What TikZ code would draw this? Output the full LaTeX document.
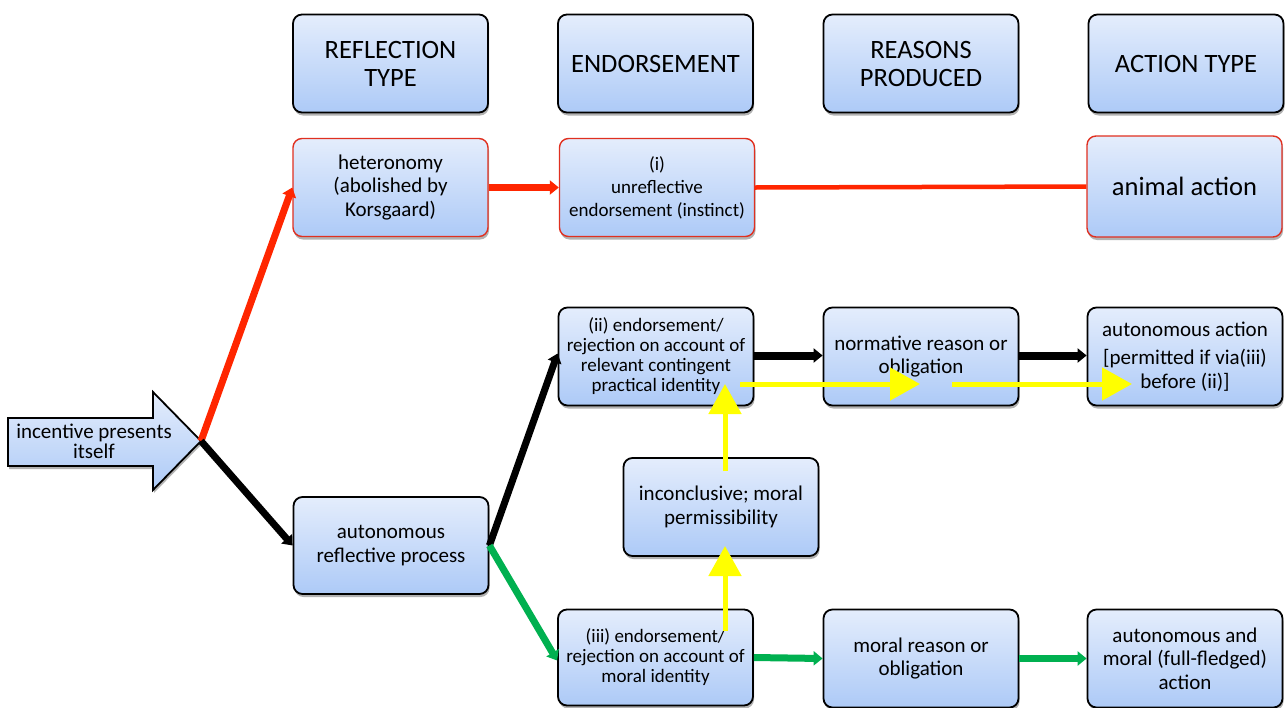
\documentclass[tikz,border=0pt]{standalone}
\usepackage{fontspec}
\setmainfont{Carlito}
\usetikzlibrary{shadows,arrows.meta,calc}
\definecolor{boxtop}{HTML}{E4EDFC}
\definecolor{boxbot}{HTML}{ADCAF7}
\definecolor{redl}{HTML}{FF2600}
\definecolor{redb}{HTML}{E03020}
\definecolor{greenl}{HTML}{00B050}
\definecolor{yell}{HTML}{FFFF00}
\begin{document}
\begin{tikzpicture}[x=1pt,y=-1pt,
  box/.style={draw=black, line width=1.8pt, rounded corners=9pt,
    top color=boxtop, bottom color=boxbot, minimum width=195pt, minimum height=98pt,
    align=center, inner sep=2pt, font=\fontsize{21}{23.5}\selectfont,
    drop shadow={shadow xshift=1pt, shadow yshift=-3pt, opacity=0.3, fill=black}},
  redbox/.style={box, draw=redb, line width=1.4pt},
  head/.style={box, font=\fontsize{26.5}{28}\selectfont},
  small/.style={font=\fontsize{19}{20}\selectfont},
  conn/.style={line width=7pt, -{Triangle[length=9pt,width=14pt]}},
  yarrow/.style={draw=yell, line width=5pt, -{Triangle[length=30pt,width=32pt]}}
]
\useasboundingbox (0,0) rectangle (1287,707);

% header row
\node[head] (hRef) at (390.5,63.5) {REFLECTION\\TYPE};
\node[head] (hEnd) at (655.5,63.5) {ENDORSEMENT};
\node[head] (hRea) at (921,63.5) {REASONS\\PRODUCED};
\node[head] (hAct) at (1186,63.5) {ACTION TYPE};

% row 1
\node[redbox] (het) at (390.5,187.5) {heteronomy\\(abolished by\\Korsgaard)};
\node[redbox, font=\fontsize{19}{23}\selectfont] (unr) at (657,187.5) {(i)\\unreflective\\endorsement (instinct)};
\node[redbox, minimum height=101pt, font=\fontsize{26.5}{28}\selectfont] (ani) at (1184.5,186.5) {animal action};

% row 2
\node[box, small] (ii) at (656,356.5) {(ii) endorsement/\\rejection on account of\\relevant contingent\\practical identity};
\node[box] (nor) at (921,356.5) {normative reason or\\obligation};
\node[box] (aac) at (1185,356.5) {autonomous action\\[5pt][permitted if via(iii)\\before (ii)]};

% middle
\node[box] (inc) at (721,507) {inconclusive; moral\\permissibility};
\node[box, minimum height=97pt] (arp) at (391,545.5) {autonomous\\reflective process};

% row 3
\node[box, small, minimum height=96pt] (iii) at (655.5,657.5) {(iii) endorsement/\\rejection on account of\\moral identity};
\node[box] (mor) at (921,658.5) {moral reason or\\obligation};
\node[box] (amf) at (1185,658.5) {autonomous and\\moral (full-fledged)\\action};

% incentive arrow
\path[draw=black, line width=1.8pt, top color=boxtop, bottom color=boxbot,
  drop shadow={shadow xshift=1pt, shadow yshift=-3pt, opacity=0.3, fill=black}]
  (8,418) -- (153,418) -- (153,392) -- (201,441) -- (153,490) -- (153,466) -- (8,466) -- cycle;
\node[font=\fontsize{21}{20}\selectfont, align=center] (ince) at (94,441) {incentive presents\\itself};
\coordinate (tip) at (201,441);

% connectors
\draw[conn, draw=redl] (tip) -- (het.west);
\draw[conn, draw=black] (tip) -- (arp.west);
\draw[conn, draw=redl] (het.east) -- (unr.west);
\draw[draw=redl, line width=4.5pt] (unr.east) -- (ani.west);
\draw[conn, draw=black] (arp.east) -- ($(ii.west)+(0,-3)$);
\draw[conn, draw=greenl] (arp.east) -- ($(iii.west)+(0,3)$);
\draw[conn, draw=black, line width=8pt] ($(ii.east)+(0,-1)$) -- ($(nor.west)+(0,-1)$);
\draw[conn, draw=black, line width=8pt] ($(nor.east)+(0,-1)$) -- ($(aac.west)+(0,-1)$);
\draw[conn, draw=greenl] (iii.east) -- (mor.west);
\draw[conn, draw=greenl] (mor.east) -- (amf.west);

% yellow arrows
\coordinate (y1s) at (725,631);
\coordinate (y1e) at (725,546);
\coordinate (y2s) at (725,471);
\coordinate (y2e) at (725,384);
\coordinate (y3s) at (740,384);
\coordinate (y3e) at (920,384);
\coordinate (y4s) at (952,384);
\coordinate (y4e) at (1132,384);
\draw[yarrow] (y1s) -- (y1e);
\draw[yarrow] (y2s) -- (y2e);
\draw[yarrow] (y3s) -- (y3e);
\draw[yarrow] (y4s) -- (y4e);
\end{tikzpicture}
\end{document}
